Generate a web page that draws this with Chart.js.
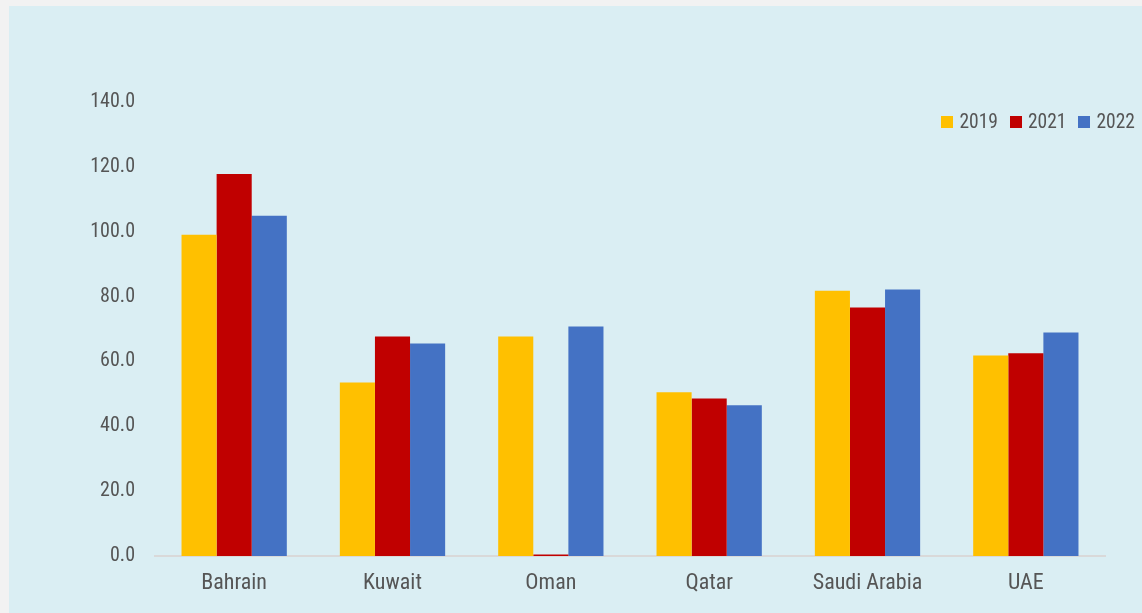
<!DOCTYPE html>
<html>
<head>
<meta charset="utf-8">
<script src="https://cdn.jsdelivr.net/npm/chart.js@4.4.0/dist/chart.umd.min.js"></script>
<style>
  html, body { margin: 0; padding: 0; background: #f2f2f2; }
  #panel {
    position: absolute; left: 9px; top: 6px; width: 1133px; height: 607px;
    background: #daeef3;
  }
  #legend {
    position: absolute; right: 7px; top: 104px;
    display: flex; align-items: center;
    font-family: "Roboto Condensed", "Liberation Sans Narrow", "DejaVu Sans Condensed", sans-serif;
    font-size: 19.5px; color: #555555;
  }
  #legend .item { display: flex; align-items: center; margin-left: 12px; }
  #legend .box { width: 12px; height: 12px; margin-right: 6px; }
</style>
</head>
<body>
<div id="panel">
  <canvas id="chart"></canvas>
  <div id="legend"></div>
</div>
<script>
const countries = ["Bahrain", "Kuwait", "Oman", "Qatar", "Saudi Arabia", "UAE"];
const years = ["2019", "2021", "2022"];
const values2019 = [99.1, 53.5, 67.7, 50.5, 81.8, 61.8];
const values2021 = [117.8, 67.7, 0.5, 48.6, 76.6, 62.5];
const values2022 = [104.9, 65.5, 70.8, 46.5, 82.2, 68.9];
const colors = ["#ffc000", "#c00000", "#4472c4"];

const font = "'Roboto Condensed', 'Liberation Sans Narrow', 'DejaVu Sans Condensed', sans-serif";
const textColor = "#555555";

const series = [values2019, values2021, values2022];

const canvas = document.getElementById("chart");
canvas.width = 1133;
canvas.height = 607;

const chart = new Chart(canvas, {
  type: "bar",
  data: {
    labels: countries,
    datasets: years.map((y, i) => ({
      label: y,
      data: series[i],
      backgroundColor: colors[i],
      categoryPercentage: 0.665,
      barPercentage: 1.0,
    })),
  },
  options: {
    responsive: false,
    animation: false,
    layout: { padding: { top: 96, right: 37, left: 0, bottom: 0 } },
    plugins: {
      legend: { display: false },
      tooltip: { enabled: false },
    },
    scales: {
      x: {
        grid: { display: false, drawTicks: false },
        border: { display: true, color: "#d9d9d9", width: 2 },
        ticks: {
          color: textColor,
          font: { family: font, size: 22 },
          padding: 14,
          maxRotation: 0,
        },
        afterFit: (scale) => { scale.height = 57; },
      },
      y: {
        min: 0,
        max: 140,
        grid: { display: false, drawTicks: false },
        border: { display: false },
        ticks: {
          stepSize: 20,
          color: textColor,
          font: { family: font, size: 20 },
          padding: 20,
          callback: (v) => Number(v).toFixed(1),
        },
        afterFit: (scale) => { scale.width = 146; },
      },
    },
  },
});

// legend built from the dataset labels and colours
const legend = document.getElementById("legend");
years.forEach((y, i) => {
  const item = document.createElement("div");
  item.className = "item";
  const box = document.createElement("span");
  box.className = "box";
  box.style.background = colors[i];
  const txt = document.createElement("span");
  txt.textContent = y;
  item.appendChild(box);
  item.appendChild(txt);
  legend.appendChild(item);
});
</script>
</body>
</html>
